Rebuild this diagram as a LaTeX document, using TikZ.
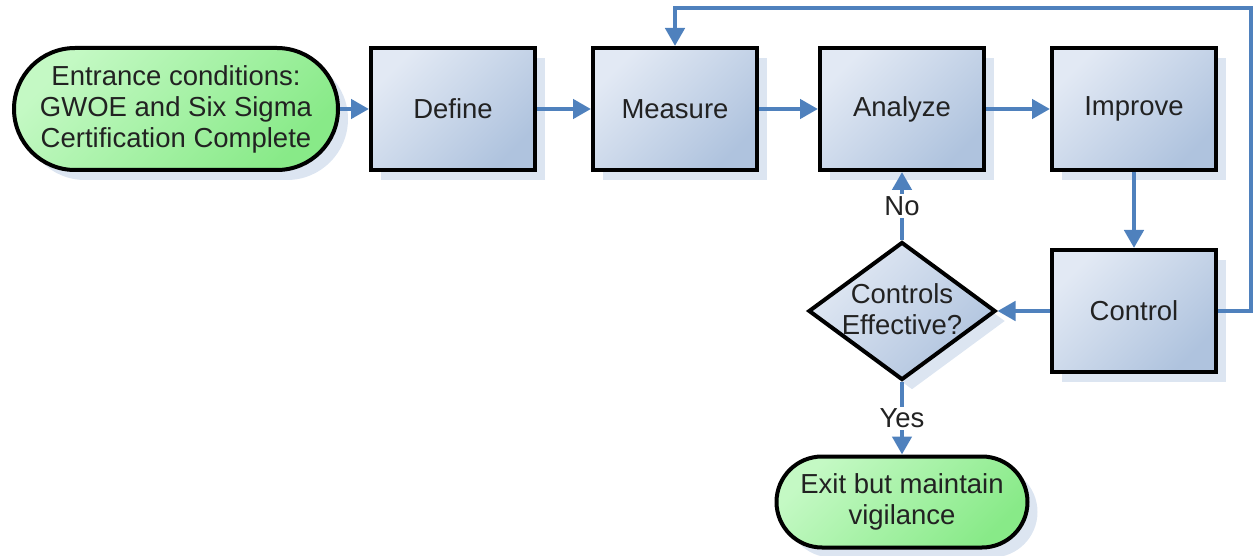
\documentclass[tikz,border=0pt]{standalone}
\usepackage{fontspec}
\setmainfont{Liberation Sans}
\usetikzlibrary{shapes.misc,shapes.geometric,arrows.meta,shadows}
\definecolor{flow}{HTML}{4F81BD}
\definecolor{boxlight}{HTML}{E2E9F4}
\definecolor{boxdark}{HTML}{AFC3DE}
\definecolor{greenlight}{HTML}{C4F9C4}
\definecolor{greendark}{HTML}{88EA88}
\definecolor{shadowblue}{HTML}{DCE5F1}
\definecolor{txt}{HTML}{222222}
\begin{document}
\begin{tikzpicture}[x=1pt,y=-1pt,
  base/.style={draw=black, line width=4pt, text=txt, font=\fontsize{27.5}{31}\selectfont, align=center, inner sep=0pt,
    general shadow={shadow xshift=10pt, shadow yshift=-10pt, fill=shadowblue, draw=none}},
  processbox/.style={base, rectangle, minimum width=164pt, minimum height=122pt,
    top color=boxlight, bottom color=boxdark, shading angle=45},
  terminal/.style={base, rounded rectangle, top color=greenlight, bottom color=greendark, shading angle=45},
  decision/.style={base, diamond, minimum width=187pt, minimum height=138pt,
    top color=boxlight, bottom color=boxdark, shading angle=45},
  flowarrow/.style={draw=flow, line width=4.5pt, -{Triangle[length=18pt,width=19pt]}},
  lbl/.style={fill=white, text=txt, inner sep=2pt, font=\fontsize{27.5}{31}\selectfont}
]
\useasboundingbox (0,0) rectangle (1254,556);

\node[terminal, minimum width=324pt, minimum height=122pt] (start) at (176,109)
  {Entrance conditions:\\GWOE and Six Sigma\\Certification Complete};
\node[processbox] (def)  at (453,109) {Define};
\node[processbox] (meas) at (675,109) {Measure};
\node[processbox] (ana)  at (902,109) {Analyze};
\node[processbox] (imp)  at (1134,109) {Improve};
\node[processbox] (ctrl) at (1134,311) {Control};
\node[decision] (dec) at (902,311) {};
\node[text=txt, font=\fontsize{27.5}{31}\selectfont, align=center, inner sep=0pt] (dectext) at (902,309) {Controls\\Effective?};
\node[terminal, minimum width=251pt, minimum height=91pt] (exit) at (902,502)
  {Exit but maintain\\vigilance};

\coordinate (fbtop) at (1251,8);

\draw[flowarrow] (start.east) -- (def.west);
\draw[flowarrow] (def.east) -- (meas.west);
\draw[flowarrow] (meas.east) -- (ana.west);
\draw[flowarrow] (ana.east) -- (imp.west);
\draw[flowarrow] (imp.south) -- (ctrl.north);
\draw[flowarrow] (ctrl.west) -- (dec.east);
\draw[flowarrow] (ctrl.east) -| (fbtop) -| (meas.north);
\draw[flowarrow] (dec.north) -- node[lbl] (no) {No} (ana.south);
\draw[flowarrow] (dec.south) -- node[lbl] (yes) {Yes} (exit.north);
\end{tikzpicture}
\end{document}
